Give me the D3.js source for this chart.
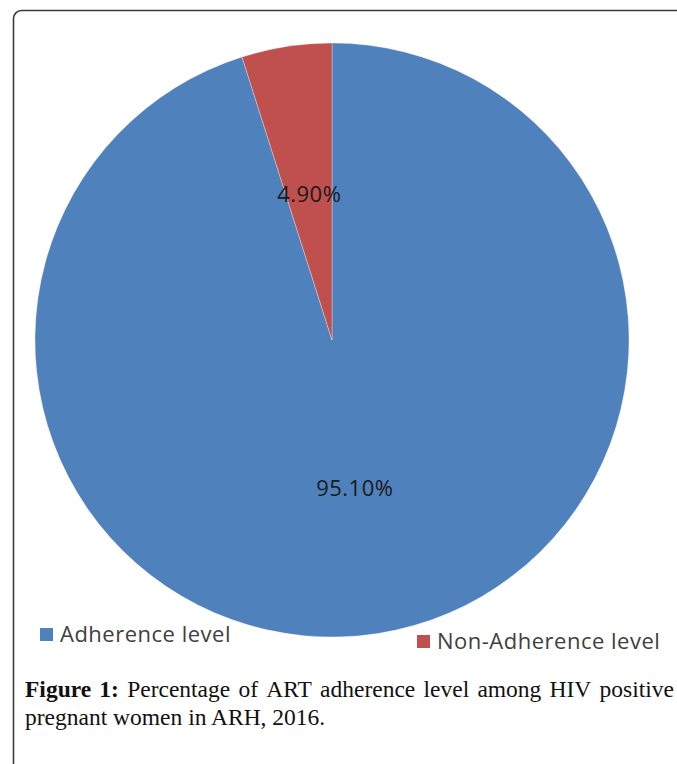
<!DOCTYPE html>
<html><head><meta charset="utf-8">
<script src="https://cdn.jsdelivr.net/npm/d3@7"></script>
<style>html,body{margin:0;padding:0;background:#fff;}svg{display:block;}</style>
</head><body>
<svg id="c" width="677" height="764"></svg>
<script>
const categories = ["Adherence level", "Non-Adherence level"];
const values = [95.1, 4.9];
const valueLabels = ["95.10%", "4.90%"];
const colors = ["#4F81BD", "#C0504D"];
const captionLine1 = ["Figure", "1:", "Percentage", "of", "ART", "adherence", "level", "among", "HIV", "positive"];
const captionLine2 = "pregnant women in ARH, 2016.";

const svg = d3.select("#c");
// frame
const cr = 8;
svg.append("path")
  .attr("d", `M13.5,780 L13.5,${10.5+cr} A${cr},${cr} 0 0 1 ${13.5+cr},10.5 L700,10.5`)
  .attr("fill", "none").attr("stroke", "#3a3a3a").attr("stroke-width", 1.6);

const cx = 332, cy = 340, R = 297;
const pie = d3.pie().sort(null).value(d => d);
const arcs = pie(values);
const arc = d3.arc().innerRadius(0).outerRadius(R);
const g = svg.append("g").attr("transform", `translate(${cx},${cy})`);
g.selectAll("path.s").data(arcs).join("path").attr("class", "s")
  .attr("d", arc).attr("fill", (d, i) => colors[i])
  .attr("stroke", "#fff").attr("stroke-width", 0.5).attr("stroke-opacity", 0.6);
g.selectAll("text.l").data(arcs).join("text").attr("class", "l")
  .attr("transform", d => `translate(${arc.centroid(d)})`)
  .attr("text-anchor", "middle").attr("dy", "0.4em")
  .attr("font-family", "Open Sans, sans-serif").attr("font-size", 22)
  .attr("letter-spacing", 0.5)
  .attr("fill", "#1a1a1a")
  .text((d, i) => valueLabels[i]);

// legend
const legendPos = [{x: 40, y: 628}, {x: 417, y: 635}];
const lg = svg.selectAll("g.lg").data(categories).join("g").attr("class", "lg")
  .attr("transform", (d, i) => `translate(${legendPos[i].x},${legendPos[i].y})`);
lg.append("rect").attr("width", 13).attr("height", 13).attr("fill", (d, i) => colors[i]);
lg.append("text").attr("x", 20).attr("y", 14)
  .attr("font-family", "Open Sans, sans-serif").attr("font-size", 22)
  .attr("letter-spacing", 0.5)
  .attr("fill", "#404040").text(d => d);

// caption
const capFont = "Liberation Serif, Times New Roman, serif";
const capSize = 23.5;
const x0 = 25, x1 = 674, y1 = 697, y2 = 725;
const tmp = captionLine1.map((w, i) => {
  const t = svg.append("text").attr("font-family", capFont).attr("font-size", capSize)
    .attr("font-weight", i < 2 ? 600 : "normal").attr("fill", "#111").attr("y", y1).text(w);
  return {t, w: t.node().getComputedTextLength()};
});
const total = d3.sum(tmp, d => d.w);
const gap = (x1 - x0 - total) / (tmp.length - 1);
let xx = x0;
tmp.forEach(d => { d.t.attr("x", xx); xx += d.w + gap; });
svg.append("text").attr("x", x0).attr("y", y2).attr("font-family", capFont)
  .attr("font-size", capSize).attr("fill", "#111").text(captionLine2);
</script>
</body></html>
